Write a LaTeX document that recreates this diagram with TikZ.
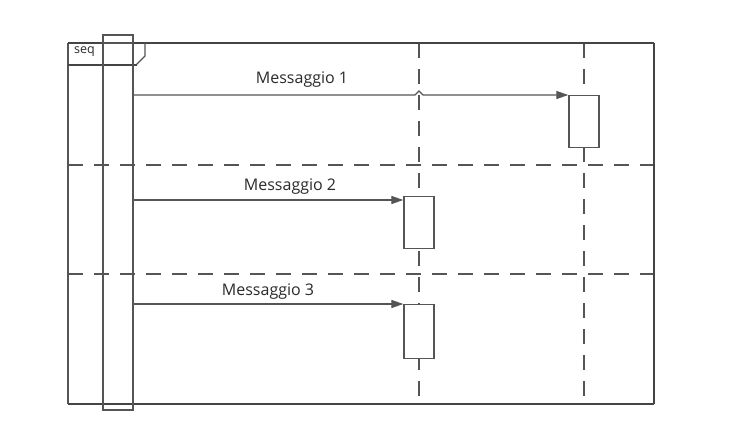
\documentclass[tikz,border=0pt]{standalone}
\usepackage{fontspec}
\setmainfont{Open Sans}
\usetikzlibrary{arrows.meta,calc}
\definecolor{lc}{HTML}{555555}
\definecolor{fc}{HTML}{444444}
\definecolor{tc}{HTML}{2A2A2A}
\begin{document}
\begin{tikzpicture}[x=1pt,y=-1pt,
  thinline/.style={draw=lc, line width=1.4pt},
  thickline/.style={draw=fc, line width=2.8pt},
  dashline/.style={draw=lc, line width=1.4pt, dash pattern=on 15pt off 11pt},
  actbox/.style={draw=lc, line width=1.4pt, fill=white, minimum width=30pt, inner sep=0pt, anchor=north},
  barbox/.style={draw=lc, line width=1.4pt, minimum width=30pt, inner sep=0pt},
  msg/.style={draw=lc, line width=1.3pt, -{Triangle[length=12pt,width=8pt]}},
  lbl/.style={text=tc, font=\fontsize{16}{18}\selectfont, inner sep=0pt}
]
\useasboundingbox[fill=white] (0,0) rectangle (756,428);
% lifeline reference coordinates
\coordinate (l1top) at (419,43);
\coordinate (l1bot) at (419,404);
\coordinate (l2top) at (584,43);
\coordinate (l2bot) at (584,404);
% dashed lifelines
\draw[dashline] (l1top) -- (l1bot);
\draw[dashline] (l2top) -- (l2bot);
% horizontal separators
\draw[dashline] (68,165) -- (654,165);
\draw[dashline] (68,274) -- (654,274);
% frame
\draw[thinline] (68,43) -- (68,404);
\draw[draw=fc, line width=2pt] (654,43) -- (654,404);
\draw[thickline] (68,43) -- (654,43);
\draw[thickline] (68,404) -- (654,404);
% header pentagon
\draw[thinline] (145,43) -- (145,56) -- (136,65);
\draw[draw=fc, line width=2.5pt] (137,65) -- (68,65);
\node[text=tc, font=\fontsize{12.5}{14}\selectfont, anchor=west, inner sep=0pt] (seq) at (74,52) {seq};
% left activation bar
\node[barbox, minimum height=375pt] (lb) at (118,222.5) {};
\draw[thinline] (lb.north west |- 0,43) -- (lb.north east |- 0,43);
% right activation boxes
\node[actbox, minimum height=52pt] (b1) at (584,95) {};
\node[actbox, minimum height=52pt] (b2) at (419,196) {};
\node[actbox, minimum height=54pt] (b3) at (419,304) {};
% messages
\draw[msg] (lb.east |- b1.north west) -- ($(l1top |- b1.north west)+(-4,0)$) -- ++(4,-4) -- ++(4,4) -- (b1.north west);
\draw[msg] (lb.east |- 0,200) -- (b2.west |- 0,200);
\draw[msg] (lb.east |- b3.north west) -- (b3.north west);
% labels
\node[lbl] (m1) at (302,80) {Messaggio 1};
\node[lbl] (m2) at (290,187) {Messaggio 2};
\node[lbl] (m3) at (268,292) {Messaggio 3};
\end{tikzpicture}
\end{document}
